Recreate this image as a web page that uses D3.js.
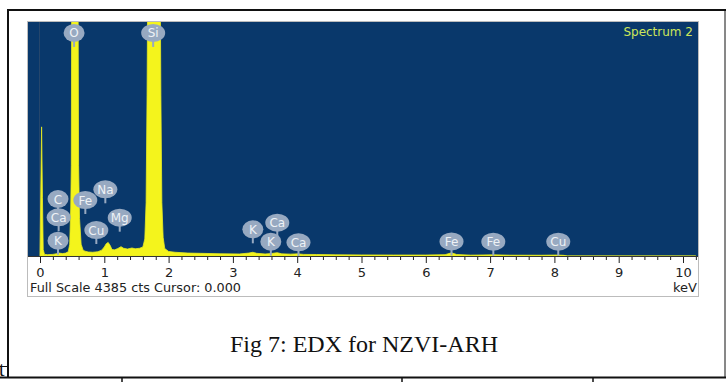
<!DOCTYPE html>
<html>
<head>
<meta charset="utf-8">
<script src="https://cdn.jsdelivr.net/npm/d3@7"></script>
<style>
  body { margin: 0; background: #fff; }
  svg { display: block; }
</style>
</head>
<body>
<div id="chart"></div>
<script>
// spectrum (keV, counts); O and Si run off the top
var spectrumKeV = [0.00, 0.012, 0.025, 0.038, 0.05, 0.07, 0.12, 0.2, 0.27, 0.3, 0.35, 0.4, 0.44,
	0.462, 0.478, 0.487, 0.492, 0.497, 0.588, 0.594, 0.60, 0.615, 0.64, 0.67, 0.70, 0.75, 0.82,
	0.9, 0.96, 1.00, 1.03, 1.06, 1.09, 1.12, 1.16, 1.21, 1.26, 1.30, 1.36, 1.43, 1.48, 1.55,
	1.60, 1.63, 1.65, 1.665, 1.68, 1.865, 1.88, 1.895, 1.915, 1.94, 2.0, 2.1, 2.3, 2.5, 2.8,
	3.1, 3.25, 3.31, 3.37, 3.5, 3.59, 3.69, 3.76, 3.9, 4.01, 4.1, 4.3, 4.6, 5.0, 5.5, 6.0,
	6.3, 6.40, 6.48, 6.7, 7.06, 7.3, 7.8, 8.04, 8.15, 8.2, 10.2];
var spectrumCts = [0, 1200, 2420, 1100, 120, 30, 25, 30, 45, 55, 45, 55, 80,
	220, 900, 1700, 4500, 6000, 6000, 4200, 1700, 700, 220, 110, 90, 75, 70,
	80, 110, 170, 230, 255, 200, 120, 115, 140, 175, 145, 130, 150, 135, 145,
	170, 320, 1000, 3000, 6000, 6000, 3000, 1000, 350, 140, 85, 70, 55, 50, 42,
	38, 55, 70, 50, 38, 45, 62, 40, 35, 40, 30, 28, 22, 20, 18, 18,
	25, 60, 28, 16, 22, 15, 14, 18, 12, 0, 0];

var peakNames = ["O", "Si", "C", "Ca", "K", "Fe", "Na", "Mg", "Cu", "K", "Ca", "K", "Ca", "Fe", "Fe", "Cu"];
var peakKeV = [0.53, 1.76, 0.28, 0.29, 0.28, 0.705, 1.016, 1.24, 0.876, 3.31, 3.69, 3.59, 4.02, 6.40, 7.05, 8.06];
var peakLevel = [4180, 4180, 1068, 725, 287, 1049, 1250, 718, 487, 500, 624, 268, 257, 272, 268, 268];

var majorTicks = [0, 1, 2, 3, 4, 5, 6, 7, 8, 9, 10];
var fullScale = 4385;

var svgWidth = 726;
var svgHeight = 382;

var svg = d3.select("#chart")
	.append("svg")
	.attr("width", svgWidth)
	.attr("height", svgHeight);

// page / table lines around the figure
svg.append("line").attr("x1", 8).attr("x2", 726).attr("y1", 10).attr("y2", 10).attr("stroke", "#111").attr("stroke-width", 2);
svg.append("line").attr("x1", 8).attr("x2", 8).attr("y1", 9).attr("y2", 378).attr("stroke", "#111").attr("stroke-width", 2);
svg.append("line").attr("x1", 725).attr("x2", 725).attr("y1", 9).attr("y2", 378).attr("stroke", "#111").attr("stroke-width", 1);
svg.append("line").attr("x1", 0).attr("x2", 726).attr("y1", 377.5).attr("y2", 377.5).attr("stroke", "#111").attr("stroke-width", 2);
svg.append("line").attr("x1", 0).attr("x2", 8).attr("y1", 366.5).attr("y2", 366.5).attr("stroke", "#111").attr("stroke-width", 1);
[122, 402, 593].forEach(function (px) {
	svg.append("line").attr("x1", px).attr("x2", px).attr("y1", 378).attr("y2", 382).attr("stroke", "#111").attr("stroke-width", 1.5);
});
svg.append("text").attr("x", -1).attr("y", 376).text("t")
	.style("font-family", "'Liberation Serif', 'Times New Roman', serif").style("font-size", "20px").attr("fill", "#111");

// spectrum frame
var plotLeft = 28, plotRight = 698, plotTop = 22, plotBase = 256;
svg.append("rect").attr("x", plotLeft - 0.5).attr("y", plotTop - 0.5).attr("width", plotRight - plotLeft + 1).attr("height", 275)
	.attr("fill", "#fff").attr("stroke", "#bcbcbc");
svg.append("rect").attr("x", plotLeft).attr("y", plotTop).attr("width", plotRight - plotLeft).attr("height", plotBase - plotTop)
	.attr("fill", "#09386b");

var x = d3.scaleLinear().domain([0, 10]).range([40, 683]);
var y = d3.scaleLinear().domain([0, fullScale]).range([plotBase, plotTop]);

svg.append("clipPath").attr("id", "plotclip")
	.append("rect").attr("x", plotLeft).attr("y", plotTop).attr("width", plotRight - plotLeft).attr("height", plotBase - plotTop);

// cursor at 0.000
svg.append("line").attr("x1", x(0) - 0.5).attr("x2", x(0) - 0.5).attr("y1", plotTop).attr("y2", plotBase)
	.attr("stroke", "#25466c").attr("stroke-width", 1);

var spectrum = spectrumKeV.map(function (k, i) { return { keV: k, cts: spectrumCts[i] }; });

var area = d3.area()
	.x(d => x(d.keV))
	.y0(plotBase)
	.y1(d => y(d.cts));

svg.append("path")
	.datum(spectrum)
	.attr("clip-path", "url(#plotclip)")
	.attr("d", area)
	.attr("fill", "#f4f41c")
	.attr("stroke", "#e8ec22")
	.attr("stroke-width", 0.8);

// element markers
var labels = peakNames.map(function (n, i) { return { name: n, keV: peakKeV[i], level: peakLevel[i] }; });
var marker = svg.selectAll("g.marker")
	.data(labels)
	.enter()
	.append("g")
	.attr("class", "marker")
	.attr("transform", d => "translate(" + x(d.keV) + "," + y(d.level) + ")");
marker.append("line")
	.attr("x1", 0).attr("x2", 0).attr("y1", 4).attr("y2", 14)
	.attr("stroke", "#97a9c1").attr("stroke-width", 2);
marker.append("ellipse")
	.attr("rx", d => d.name.length > 1 ? 12 : 10.5)
	.attr("ry", 9)
	.attr("fill", "#97a9c1");
marker.append("text")
	.attr("text-anchor", "middle")
	.attr("y", 4.5)
	.text(d => d.name)
	.style("font-family", "'DejaVu Sans', sans-serif")
	.style("font-size", "12px")
	.attr("fill", "#eef2f6");

svg.append("text")
	.attr("x", 693).attr("y", 36)
	.attr("text-anchor", "end")
	.text("Spectrum 2")
	.style("font-family", "'DejaVu Sans', sans-serif")
	.style("font-size", "12px")
	.attr("fill", "#cde65a");

// x axis
var minorTicks = d3.range(0, 52).map(i => i * 0.2).filter(v => Math.abs(v - Math.round(v)) > 0.01 || v > 10.05);
var minorAxis = d3.axisBottom(x).tickValues(minorTicks).tickSize(4).tickFormat("");
var majorAxis = d3.axisBottom(x).tickValues(majorTicks).tickSize(7).tickPadding(5).tickFormat(d3.format("d"));

var gMinor = svg.append("g").attr("transform", "translate(0," + plotBase + ")").call(minorAxis);
var gMajor = svg.append("g").attr("transform", "translate(0," + plotBase + ")").call(majorAxis);
gMinor.select(".domain").remove();
gMajor.select(".domain").remove();
svg.append("line").attr("x1", plotLeft).attr("x2", plotRight).attr("y1", plotBase + 0.5).attr("y2", plotBase + 0.5)
	.attr("stroke", "#333");
svg.selectAll(".tick line").attr("stroke", "#222");
gMajor.selectAll("text")
	.style("font-family", "'DejaVu Sans', sans-serif")
	.style("font-size", "13px")
	.attr("fill", "#222");

svg.append("text")
	.attr("x", 30).attr("y", 292)
	.attr("textLength", 211)
	.attr("lengthAdjust", "spacingAndGlyphs")
	.text("Full Scale 4385 cts Cursor: 0.000")
	.style("font-family", "'DejaVu Sans', sans-serif")
	.style("font-size", "12px")
	.attr("fill", "#222");
svg.append("text")
	.attr("x", 697).attr("y", 292)
	.attr("text-anchor", "end")
	.text("keV")
	.style("font-family", "'DejaVu Sans', sans-serif")
	.style("font-size", "13px")
	.attr("fill", "#222");

// caption
svg.append("text")
	.attr("x", 364).attr("y", 352)
	.attr("text-anchor", "middle")
	.text("Fig 7: EDX for NZVI-ARH")
	.style("font-family", "'Liberation Serif', 'Times New Roman', serif")
	.style("font-size", "24px")
	.attr("fill", "#111");
</script>
</body>
</html>
